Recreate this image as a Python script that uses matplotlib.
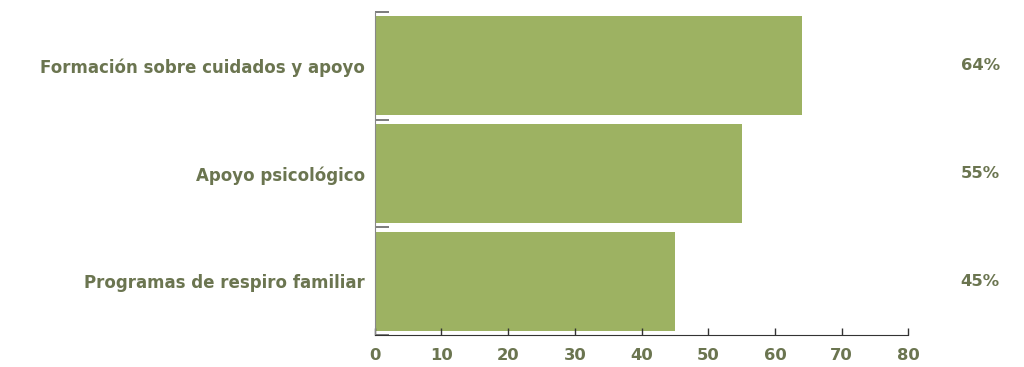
import matplotlib.pyplot as plt
from matplotlib.font_manager import FontProperties
from matplotlib.transforms import blended_transform_factory

categories = ["Formación sobre cuidados y apoyo", "Apoyo psicológico", "Programas de respiro familiar"]
values = [64, 55, 45]
labels = ["64%", "55%", "45%"]

bar_color = "#9db262"
text_color = "#6b7550"

plt.rcParams["font.family"] = ["DejaVu Sans"]
label_font = FontProperties(family="DejaVu Sans", weight="bold", size=12)
tick_font = FontProperties(family="DejaVu Sans", weight="bold", size=11.8)

fig = plt.figure(figsize=(10.24, 3.67), dpi=100)
ax = fig.add_axes([0.366, 0.087, 0.521, 0.88])

pos = list(range(len(categories)))
ax.barh(pos, values, height=0.92, color=bar_color)
ax.set_ylim(2.5, -0.5)
ax.set_xlim(0, 80)

ax.set_yticks(pos)
ax.set_yticklabels(categories, fontproperties=label_font, color=text_color)
ax.tick_params(axis="y", length=0, pad=7)
ax.set_yticks([-0.5, 0.5, 1.5, 2.5], minor=True)
ax.tick_params(axis="y", which="minor", direction="in", length=10, color="#666666", width=1.2)

ax.set_xticks(range(0, 81, 10))
ax.set_xticklabels([str(v) for v in range(0, 81, 10)], fontproperties=tick_font, color=text_color)
ax.tick_params(axis="x", direction="in", length=5, width=1, color="#333333", pad=9)

ax.spines["top"].set_visible(False)
ax.spines["right"].set_visible(False)
ax.spines["left"].set_color("#888888")
ax.spines["bottom"].set_color("#333333")

trans = blended_transform_factory(ax.transAxes, ax.transData)
for p, lab in zip(pos, labels):
    ax.text(1.135, p, lab, transform=trans, ha="center", va="center",
            fontproperties=tick_font, color=text_color)

fig.savefig("out.png", dpi=100)
